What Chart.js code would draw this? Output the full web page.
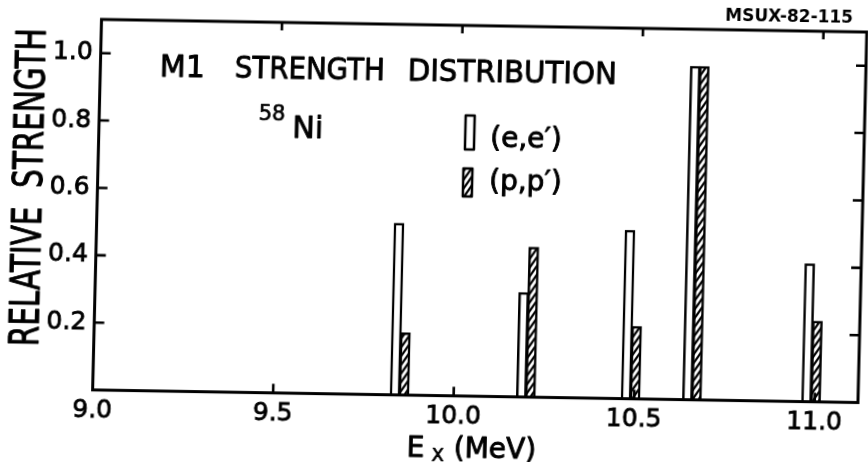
<!DOCTYPE html>
<html>
<head>
<meta charset="utf-8">
<script src="https://cdn.jsdelivr.net/npm/chart.js@4.4.0/dist/chart.umd.min.js"></script>
<style>
  html, body { margin: 0; padding: 0; background: #fff; }
  #wrap { width: 868px; height: 462px; overflow: hidden; background: #fff; }
  #c { display: block; transform-origin: 434px 231px; transform: matrix(1, 0.0165, -0.024, 1, 0, 0); }
</style>
</head>
<body>
<div id="wrap"><canvas id="c" width="868" height="462"></canvas></div>
<script>
// ---- data ----
const energies   = [9.85, 10.20, 10.49, 10.66, 10.99];      // Ex (MeV) of each M1 state
const eeStrength = [0.51, 0.31, 0.50, 0.99, 0.41];          // (e,e') relative strength
const ppStrength = [0.185, 0.445, 0.215, 0.99, 0.24];       // (p,p') relative strength
const xTickValues = [9.0, 9.5, 10.0, 10.5, 11.0];
const yTickValues = [0.2, 0.4, 0.6, 0.8, 1.0];
const xLabelText = ['9.0', '9.5', '10.0', '10.5', '11.0'];
const yLabelText = ['0.2', '0.4', '0.6', '0.8', '1.0'];

// ---- style ----
const FONT = "'DejaVu Sans', sans-serif";
const halfBar = 0.0125;

function makeHatch() {
  const w = 6, h = 9;
  const p = document.createElement('canvas');
  p.width = w; p.height = h;
  const g = p.getContext('2d');
  g.fillStyle = '#fff';
  g.fillRect(0, 0, w, h);
  g.strokeStyle = '#000';
  g.lineWidth = 2.2;
  g.beginPath();
  g.moveTo(-2, h + 3); g.lineTo(w + 2, -3);
  g.moveTo(-2 - w, h + 3); g.lineTo(2, -3);
  g.moveTo(w - 2, h + 3); g.lineTo(2 * w + 2, -3);
  g.stroke();
  return g.createPattern(p, 'repeat');
}
const ctx0 = document.getElementById('c').getContext('2d');
const hatch = makeHatch();

function heavyText(ctx, text, x, y, maxW, sw) {
  ctx.fillText(text, x, y, maxW);
  ctx.lineWidth = sw;
  ctx.strokeText(text, x, y, maxW);
}

const decor = {
  id: 'decor',
  afterDatasetsDraw(chart) {
    const { ctx, chartArea: a, scales } = chart;
    const xs = scales.x, ys = scales.y;
    ctx.save();
    ctx.strokeStyle = '#000';
    ctx.fillStyle = '#000';
    // frame
    ctx.lineWidth = 3;
    ctx.strokeRect(a.left, a.top, a.right - a.left, a.bottom - a.top);
    // inner ticks
    ctx.lineWidth = 2.6;
    ctx.beginPath();
    yTickValues.forEach(v => {
      const y = ys.getPixelForValue(v);
      ctx.moveTo(a.left, y); ctx.lineTo(a.left + 10, y);
      ctx.moveTo(a.right, y); ctx.lineTo(a.right - 10, y);
    });
    xTickValues.forEach(v => {
      if (v === xs.min) return;
      const x = xs.getPixelForValue(v);
      ctx.moveTo(x, a.bottom); ctx.lineTo(x, a.bottom - 9);
      ctx.moveTo(x, a.top); ctx.lineTo(x, a.top + 8);
    });
    ctx.stroke();

    // titles and labels
    ctx.textAlign = 'left';
    ctx.textBaseline = 'alphabetic';
    ctx.lineJoin = 'round';
    ctx.font = '30px ' + FONT;
    heavyText(ctx, 'M1', 156, 81, 45, 0.9);
    heavyText(ctx, 'STRENGTH', 231, 81, 150, 0.9);
    heavyText(ctx, 'DISTRIBUTION', 404, 81, 209, 0.9);

    ctx.font = '21px ' + FONT;
    heavyText(ctx, '58', 256, 123, 32, 0.7);
    ctx.font = '30px ' + FONT;
    heavyText(ctx, 'Ni', 290, 140, 31, 0.9);

    // legend
    ctx.lineWidth = 2.5;
    ctx.fillStyle = '#fff';
    ctx.fillRect(463, 115, 9, 34);
    ctx.strokeRect(463, 115, 9, 34);
    ctx.fillStyle = hatch;
    ctx.fillRect(462, 168, 9, 28);
    ctx.strokeRect(462, 168, 9, 28);
    ctx.fillStyle = '#000';
    ctx.font = '28px ' + FONT;
    heavyText(ctx, '(e,e\u2032)', 488, 146, 86, 0.9);
    heavyText(ctx, '(p,p\u2032)', 488, 189, 86, 0.9);

    // report number
    ctx.font = 'bold 17px ' + FONT;
    ctx.fillText('MSUX-82-115', 720, 16, 135);

    // y axis title
    ctx.save();
    ctx.translate(41, 194);
    ctx.rotate(-Math.PI / 2);
    ctx.textAlign = 'center';
    ctx.font = '40px ' + FONT;
    heavyText(ctx, 'RELATIVE  STRENGTH', 0, 0, 318, 1.0);
    ctx.restore();

    // x axis title  E_x (MeV)
    ctx.font = '28px ' + FONT;
    heavyText(ctx, 'E', 412, 457, 21, 0.9);
    ctx.font = '18px ' + FONT;
    heavyText(ctx, 'X', 437, 461, 14, 0.7);
    ctx.font = '28px ' + FONT;
    heavyText(ctx, '(MeV)', 459, 457, 83, 0.9);
    ctx.restore();
  }
};

new Chart(ctx0, {
  type: 'bar',
  data: {
    datasets: [
      {
        label: "(e,e')",
        data: energies.map((x, i) => ({ x: x - halfBar, y: eeStrength[i] })),
        backgroundColor: '#fff',
        borderColor: '#000',
        borderWidth: 2.5,
        borderSkipped: 'start',
        barThickness: 10,
        grouped: false
      },
      {
        label: "(p,p')",
        data: energies.map((x, i) => ({ x: x + halfBar, y: ppStrength[i] })),
        backgroundColor: hatch,
        borderColor: '#000',
        borderWidth: 2.5,
        borderSkipped: 'start',
        barThickness: 10,
        grouped: false
      }
    ]
  },
  options: {
    responsive: false,
    animation: false,
    devicePixelRatio: 1,
    layout: { padding: { left: 0, right: 6, top: 25, bottom: 0 } },
    plugins: { legend: { display: false }, tooltip: { enabled: false } },
    scales: {
      x: {
        type: 'linear',
        offset: false,
        min: 9.0,
        max: 11.12,
        grid: { display: false, drawTicks: false, offset: false },
        border: { display: false },
        afterBuildTicks: s => { s.ticks = xTickValues.map(v => ({ value: v })); },
        afterFit: s => { s.height = 66.4; },
        ticks: {
          autoSkip: false,
          maxRotation: 0,
          padding: 6,
          color: '#000',
          textStrokeColor: '#000',
          textStrokeWidth: 0.8,
          font: { family: FONT, size: 25 },
          callback: (v) => { const i = xTickValues.indexOf(v); return i >= 0 ? xLabelText[i] : ''; }
        }
      },
      y: {
        min: 0,
        max: 1.1,
        grid: { display: false, drawTicks: false },
        border: { display: false },
        afterBuildTicks: s => { s.ticks = yTickValues.map(v => ({ value: v })); },
        afterFit: s => { s.width = 96.6; },
        ticks: {
          padding: 8,
          color: '#000',
          textStrokeColor: '#000',
          textStrokeWidth: 0.8,
          font: { family: FONT, size: 25 },
          callback: (v) => { const i = yTickValues.indexOf(v); return i >= 0 ? yLabelText[i] : ''; }
        }
      }
    }
  },
  plugins: [decor]
});
</script>
</body>
</html>
